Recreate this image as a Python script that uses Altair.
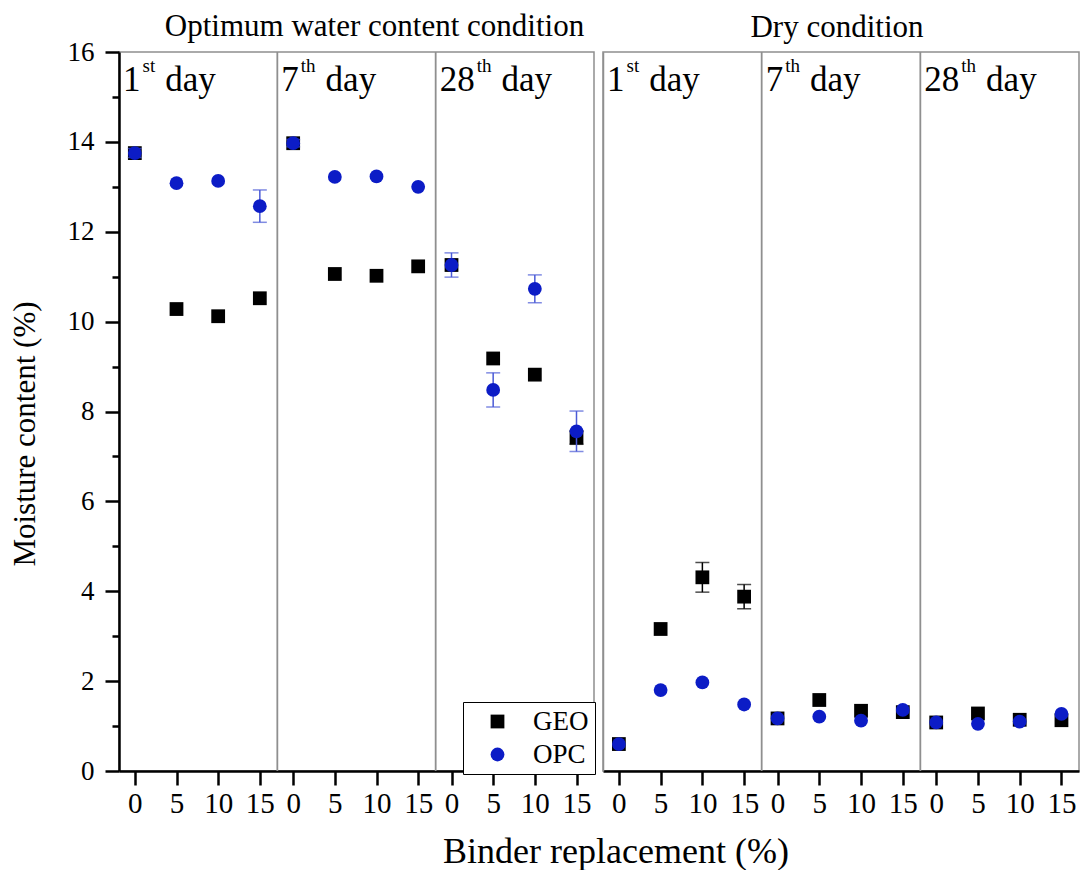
import altair as alt
import pandas as pd

FONT = "Liberation Serif"
BLUE = "#0c1cc6"
BLUE_ERR = "#4a5ad6"
GREY = "#8f8f8f"

# ---------------- data ----------------
replacement = [0, 5, 10, 15]
day_num = ["1", "7", "28"]
day_sup = ["st", "th", "th"]
series_names = ["GEO", "OPC"]
panel_titles = ["Optimum water content condition", "Dry condition"]

# rows: 1st day, 7th day, 28th day ; columns: 0, 5, 10, 15 % replacement
opt_geo = [[13.75, 10.28, 10.12, 10.52],
           [13.97, 11.06, 11.02, 11.23],
           [11.26, 9.18, 8.82, 7.42]]
opt_geo_err = [[0.0, 0.0, 0.0, 0.0],
               [0.0, 0.0, 0.0, 0.0],
               [0.0, 0.0, 0.0, 0.15]]
opt_opc = [[13.75, 13.08, 13.13, 12.57],
           [13.97, 13.22, 13.23, 13.00],
           [11.26, 8.48, 10.73, 7.56]]
opt_opc_err = [[0.10, 0.0, 0.0, 0.36],
               [0.08, 0.0, 0.0, 0.0],
               [0.27, 0.38, 0.31, 0.45]]

dry_geo = [[0.60, 3.16, 4.31, 3.88],
           [1.17, 1.58, 1.34, 1.31],
           [1.08, 1.28, 1.14, 1.13]]
dry_geo_err = [[0.0, 0.0, 0.33, 0.27],
               [0.0, 0.0, 0.0, 0.0],
               [0.0, 0.0, 0.0, 0.0]]
dry_opc = [[0.60, 1.80, 1.97, 1.48],
           [1.17, 1.21, 1.12, 1.36],
           [1.08, 1.05, 1.10, 1.27]]
dry_opc_err = [[0.0, 0.0, 0.0, 0.0],
               [0.0, 0.0, 0.0, 0.0],
               [0.0, 0.0, 0.0, 0.0]]

# ---------------- layout constants ----------------
SUB_W = 19          # x-units per day sub-panel
PAD_L = 1.9         # x-units left of the 0 tick inside each sub-panel
X_MIN = -PAD_L
X_MAX = 3 * SUB_W - PAD_L
PANEL_H = 719
LEFT_W = 475
RIGHT_W = 476

NUM_SIZE = 35
SUP_SIZE = 19
SUP_W = {"s": 0.389, "t": 0.278, "h": 0.5}


def build_frame(geo, geo_err, opc, opc_err):
    rows = []
    for s, (vals, errs) in enumerate([(geo, geo_err), (opc, opc_err)]):
        for d in range(3):
            for k, r in enumerate(replacement):
                v = vals[d][k]
                e = errs[d][k]
                rows.append(dict(series=series_names[s], pos=d * SUB_W + r,
                                 value=v, err=e, lo=v - e, hi=v + e))
    return pd.DataFrame(rows)


tick_values = [d * SUB_W + r for d in range(3) for r in replacement]
x_scale = alt.Scale(domain=[X_MIN, X_MAX], nice=False, zero=False)
y_scale = alt.Scale(domain=[0, 16], nice=False)
color_scale = alt.Scale(domain=series_names, range=["black", BLUE])
shape_scale = alt.Scale(domain=series_names, range=["square", "circle"])

x_axis = alt.Axis(values=tick_values,
                  labelExpr=f"format(datum.value - {SUB_W}*floor((datum.value + 1)/{SUB_W}), 'd')",
                  title=None, grid=False, tickSize=14, tickWidth=2.5, tickColor="black",
                  domainColor="black", domainWidth=2.5, labelFont=FONT, labelFontSize=29,
                  labelColor="black", labelPadding=4, labelFlush=False, labelOverlap=False)


def y_axis(show):
    if show:
        return alt.Axis(values=list(range(17)),
                        labelExpr="datum.value % 2 == 0 ? datum.label : ''",
                        title="Moisture content (%)", titleFont=FONT, titleFontSize=31,
                        titleFontWeight="normal", titleColor="black", titlePadding=26,
                        titleY=PANEL_H / 2 + 22,
                        grid=False,
                        tickSize={"condition": {"test": "datum.value % 2 == 0", "value": 14}, "value": 7},
                        tickWidth=2.5, tickColor="black", domainColor="black", domainWidth=2.5,
                        labelFont=FONT, labelFontSize=27, labelColor="black", labelPadding=11)
    return alt.Axis(values=[0], labels=False, ticks=False, title=None, grid=False,
                    domainColor=GREY, domainWidth=1.5)


def panel(idx, geo, geo_err, opc, opc_err, show_y, show_legend, width, title_offset, title_dx):
    df = build_frame(geo, geo_err, opc, opc_err)
    X = alt.X("pos:Q", scale=x_scale, axis=x_axis)
    Y = alt.Y("value:Q", scale=y_scale, axis=y_axis(show_y))

    layers = []
    # dividers between day sub-panels
    div = pd.DataFrame({"pos": [d * SUB_W + SUB_W - PAD_L for d in range(2)]})
    layers.append(alt.Chart(div).mark_rule(color=GREY, strokeWidth=1.8).encode(x=X))

    # day labels with superscripts
    for d in range(3):
        lab = pd.DataFrame({"pos": [d * SUB_W - PAD_L]})
        n = day_num[d]
        sup = day_sup[d]
        dx_num = 4
        dx_sup = dx_num + 0.5 * NUM_SIZE * len(n) + 2
        dx_day = dx_sup + sum(SUP_W[c] for c in sup) * SUP_SIZE + 10
        for txt, dx, size, ypix in [(n, dx_num, NUM_SIZE, 39), (sup, dx_sup, SUP_SIZE, 20),
                                    ("day", dx_day, NUM_SIZE, 39)]:
            layers.append(alt.Chart(lab).mark_text(text=txt, align="left", baseline="alphabetic",
                                                   dx=dx, font=FONT, fontSize=size, color="black")
                          .encode(x=X, y=alt.value(ypix)))

    legend = None
    if show_legend:
        legend = alt.Legend(title=None, orient="none", legendX=width - 131, legendY=PANEL_H - 69,
                            strokeColor="black", fillColor="white", padding=6, symbolOffset=15,
                            labelOffset=22, labelFont=FONT, labelFontSize=27, labelColor="black",
                            symbolSize=190, rowPadding=5, cornerRadius=0)
    color = alt.Color("series:N", scale=color_scale, legend=legend)
    shape = alt.Shape("series:N", scale=shape_scale, legend=legend)

    for s, ecol in zip(series_names, ["black", BLUE_ERR]):
        sub = df[df.series == s]
        err = sub[sub.err > 0]
        if len(err):
            layers.append(alt.Chart(err).mark_rule(color=ecol, strokeWidth=1.5)
                          .encode(x=X, y=alt.Y("lo:Q", scale=y_scale, axis=y_axis(show_y)), y2="hi:Q"))
            layers.append(alt.Chart(err).transform_fold(["lo", "hi"], as_=["end", "endval"])
                          .mark_tick(orient="horizontal", size=14, thickness=1.5, color=ecol)
                          .encode(x=X, y=alt.Y("endval:Q", scale=y_scale, axis=y_axis(show_y))))
        layers.append(alt.Chart(sub).mark_point(filled=True, size=190, opacity=1)
                      .encode(x=X, y=Y, color=color, shape=shape))

    return alt.layer(*layers).properties(
        width=width, height=PANEL_H,
        title=alt.TitleParams(panel_titles[idx], font=FONT, fontSize=31, fontWeight="normal",
                              color="black", anchor="middle", offset=title_offset, dx=title_dx))


left = panel(0, opt_geo, opt_geo_err, opt_opc, opt_opc_err, True, True, LEFT_W, -5, 18)
right = panel(1, dry_geo, dry_geo_err, dry_opc, dry_opc_err, False, False, RIGHT_W, 7, -4)

chart = alt.hconcat(left, right, spacing=7).properties(
    title=alt.TitleParams("Binder replacement (%)", orient="bottom", anchor="middle",
                          font=FONT, fontSize=36, fontWeight="normal", color="black", offset=16,
                          dx=72),
    padding={"left": 0, "top": 2, "right": 0, "bottom": 0},
).configure_view(stroke=GREY, strokeWidth=1.5)

chart.save("out.html", embed_options={"renderer": "svg", "actions": False})
